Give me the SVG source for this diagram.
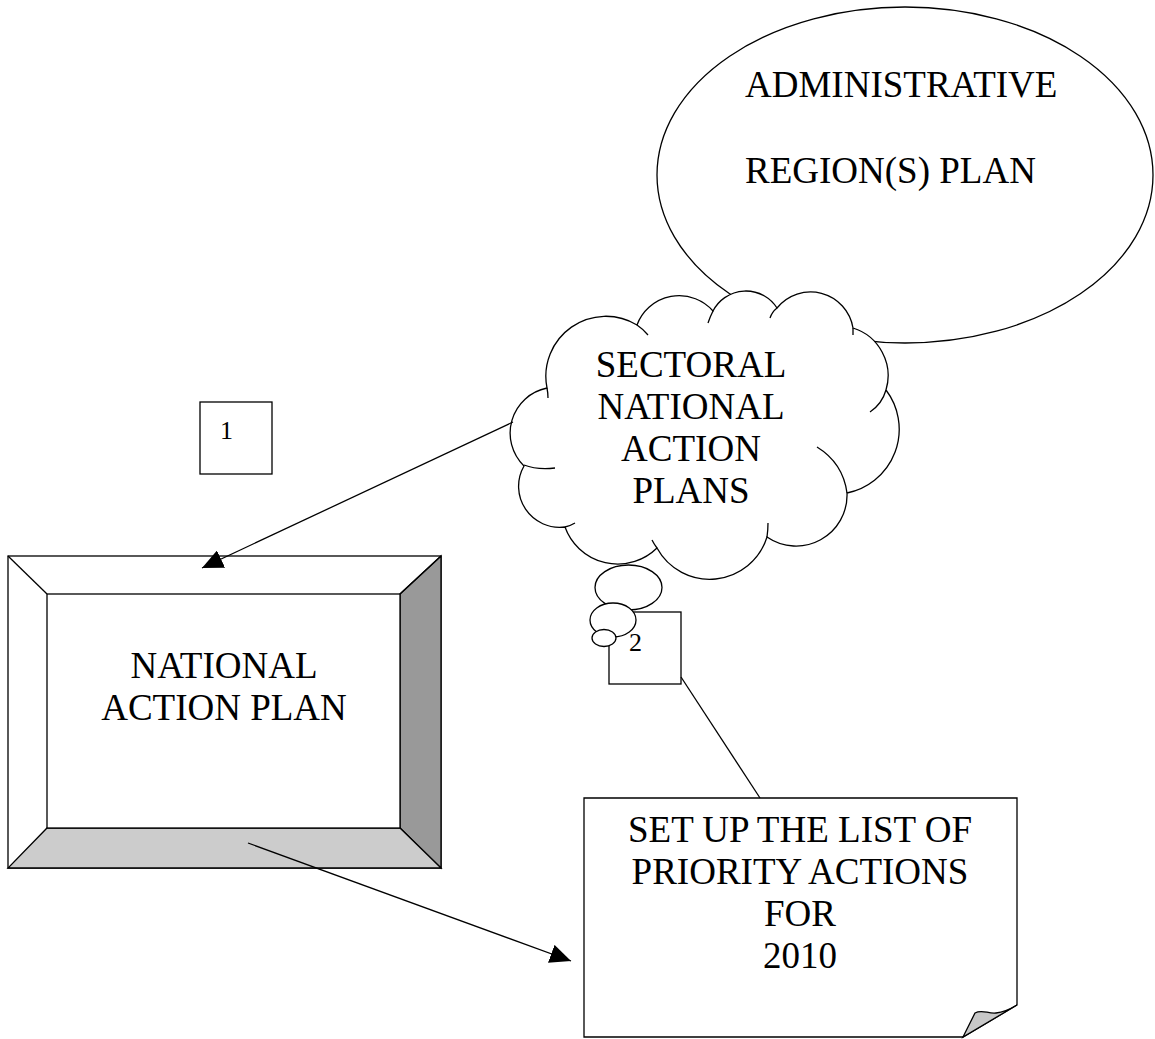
<svg xmlns="http://www.w3.org/2000/svg" width="1155" height="1039" viewBox="0 0 1155 1039">
<defs>
<style>
.s{stroke:#000;stroke-width:1.3;fill:#fff}
.t{font-family:'Liberation Serif','Times New Roman',serif;font-size:37px;fill:#000}
.c{text-anchor:middle}
.n{font-family:'Liberation Serif','Times New Roman',serif;font-size:26px;fill:#000}
.ln{stroke:#000;stroke-width:1.3;fill:none}
</style>
<marker id="ah" markerUnits="userSpaceOnUse" viewBox="0 0 21 19" refX="21" refY="9.5" markerWidth="21" markerHeight="19" orient="auto">
<path d="M0,0 L21,9.5 L0,19 Z" fill="#000"/>
</marker>
</defs>
<rect width="1155" height="1039" fill="#fff"/>
<g id="admin-region-plan">
<ellipse class="s" cx="905" cy="175" rx="248" ry="168"/>
<text class="t" x="745" y="97">ADMINISTRATIVE</text>
<text class="t" x="745" y="183">REGION(S) PLAN</text>
</g>
<g id="box-1">
<rect class="s" x="200" y="402" width="72" height="72"/>
<text class="n" x="220" y="439">1</text>
</g>
<g id="box-2">
<rect class="s" x="609" y="612" width="72" height="72"/>
<text class="n" x="629" y="651">2</text>
</g>
<g id="sectoral-plans">
<path class="s" d="M524,466 A46,46 0 0 1 547,388 A60,60 0 0 1 637,325 A45,45 0 0 1 713,311 A37,37 0 0 1 777,308 A43,43 0 0 1 853,328 A50,50 0 0 1 886,390 A65,65 0 0 1 847,493 A51,51 0 0 1 767,537 A60,60 0 0 1 657,548 A56,56 0 0 1 565,527 A41,41 0 0 1 524,466 Z"/>
<path class="ln" d="M547,388 Q548,393 548,398 M524,465 Q537,470 555,468 M565,527 Q570,526 575,523 M657,548 Q654,544 652,540 M767,537 Q768,530 768,523 M817,447 Q843,463 847,493 M886,390 Q882,404 870,412 M853,328 L853,335 M777,308 Q772,312 770,318 M713,311 Q710,317 708,323 M637,325 Q643,329 648,335"/>
<ellipse class="s" cx="628.5" cy="587.5" rx="33.5" ry="22.5"/>
<ellipse class="s" cx="613" cy="620" rx="23" ry="17"/>
<ellipse class="s" cx="604" cy="638" rx="12" ry="8.5"/>
<text class="t c" x="691" y="377">SECTORAL</text>
<text class="t c" x="691" y="419">NATIONAL</text>
<text class="t c" x="691" y="461">ACTION</text>
<text class="t c" x="691" y="503">PLANS</text>
</g>
<g id="national-action-plan">
<rect class="s" x="8" y="556" width="433" height="312"/>
<polygon class="s" points="400,594 441,556 441,868 400,828" style="fill:#999"/>
<polygon class="s" points="47,828 400,828 441,868 8,868" style="fill:#ccc"/>
<line class="ln" x1="8" y1="556" x2="47" y2="594"/>
<line class="ln" x1="441" y1="556" x2="400" y2="594"/>
<rect class="s" x="47" y="594" width="353" height="234"/>
<text class="t c" x="224" y="678">NATIONAL</text>
<text class="t c" x="224" y="720">ACTION PLAN</text>
</g>
<g id="priority-actions">
<path class="s" d="M584,798 H1017 V1005 L963,1037 H584 Z"/>
<path class="s" style="fill:#c8c8c8" d="M963,1037 L975,1013 C982,1009 988,1014 996,1013 C1005,1012 1012,1008 1017,1005 Z"/>
<text class="t c" x="800" y="842">SET UP THE LIST OF</text>
<text class="t c" x="800" y="884">PRIORITY ACTIONS</text>
<text class="t c" x="800" y="926">FOR</text>
<text class="t c" x="800" y="968">2010</text>
</g>
<g id="connectors">
<line class="ln" x1="513" y1="422" x2="202" y2="568" marker-end="url(#ah)"/>
<line class="ln" x1="248" y1="843" x2="571" y2="961" marker-end="url(#ah)"/>
<line class="ln" x1="681" y1="677" x2="760" y2="798"/>
</g>
</svg>
